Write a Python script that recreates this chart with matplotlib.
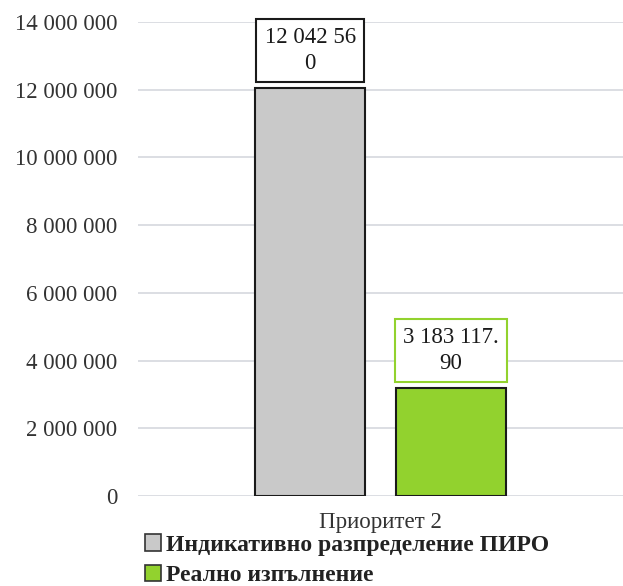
import matplotlib.pyplot as plt
from matplotlib.patches import Patch

# data
category = 'Приоритет 2'
series_names = ['Индикативно разпределение ПИРО', 'Реално изпълнение']
values = [12042560, 3183117.90]
value_labels = ['12 042 56\n0', '3 183 117.\n90']
y_ticks = [0, 2000000, 4000000, 6000000, 8000000, 10000000, 12000000, 14000000]

bar_colors = ['#c9c9c9', '#92d22e']
box_edges = ['#1a1a1a', '#92d22e']

plt.rcParams['font.family'] = ['Liberation Serif', 'DejaVu Serif']

fig = plt.figure(figsize=(6.23, 5.86), dpi=100)
ax = fig.add_axes([0.2215, 0.1536, 0.7785, 0.8089])

offsets = [-0.145, 0.145]
width = 0.226
for off, val, col, edge, lab in zip(offsets, values, bar_colors, box_edges, value_labels):
    ax.bar(off, val, width=width, color=col, edgecolor='#1a1a1a', linewidth=1.5, zorder=3)
    ax.annotate(lab, xy=(off, val), xytext=(0, 10.5), textcoords='offset points',
                ha='center', va='bottom', fontsize=16.5, color='#1a1a1a',
                linespacing=1.3, zorder=4,
                bbox=dict(boxstyle='square,pad=0.36', fc='white', ec=edge, lw=1.5))

ax.set_xlim(-0.5, 0.5)
ax.set_ylim(0, 14000000)
ax.set_yticks(y_ticks)
ax.set_yticklabels([f'{v:,}'.replace(',', ' ') for v in y_ticks])
ax.set_xticks([0])
ax.set_xticklabels([category])
ax.tick_params(axis='y', length=0, pad=15, labelsize=16.5, labelcolor='#333333')
ax.tick_params(axis='x', length=0, pad=11.5, labelsize=16.5, labelcolor='#333333')
ax.grid(axis='y', color='#d5d8de', linewidth=1.2, zorder=0)
for s in ax.spines.values():
    s.set_visible(False)

handles = [Patch(facecolor=c, edgecolor='#333333', linewidth=1.2) for c in bar_colors]
fig.legend(handles, series_names, loc='upper left', bbox_to_anchor=(0.232, 0.088),
           frameon=False, prop={'weight': 'bold', 'size': 17},
           handlelength=0.7, handleheight=0.7, handletextpad=0.2,
           labelspacing=0.38, borderpad=0, borderaxespad=0, labelcolor='#222222')

fig.savefig('out.png', dpi=100)
